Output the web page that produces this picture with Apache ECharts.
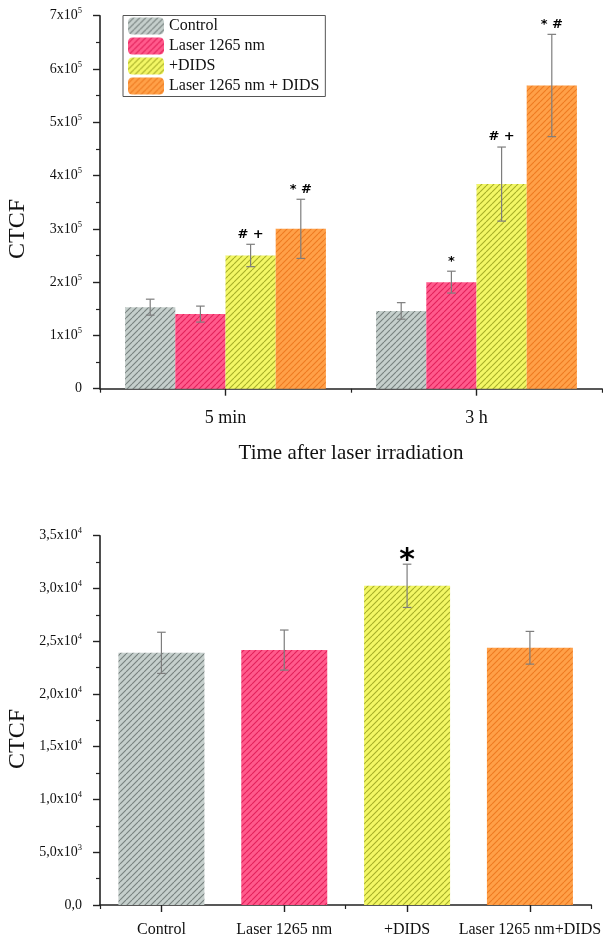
<!DOCTYPE html>
<html>
<head>
<meta charset="utf-8">
<script src="https://cdn.jsdelivr.net/npm/echarts@6/dist/echarts.min.js"></script>
<style>html,body{margin:0;padding:0;background:#fff}#c{width:603px;height:938px}</style>
</head>
<body>
<div id="c"></div>
<script>
// ---------- DATA ----------
const topCategories = ['5 min', '3 h'];
const seriesNames = ['Control', 'Laser 1265 nm', '+DIDS', 'Laser 1265 nm + DIDS'];
const controlValues = [153000, 146000];
const controlErrors = [15000, 15500];
const laserValues = [140000, 200000];
const laserErrors = [15000, 20500];
const didsValues = [250000, 384000];
const didsErrors = [21000, 69500];
const laserDidsValues = [300000, 569000];
const laserDidsErrors = [55500, 96000];
const controlMarks = ['', ''];
const laserMarks = ['', '*'];
const didsMarks = ['# +', '# +'];
const laserDidsMarks = ['* #', '* #'];
const topYTicks = [0, 100000, 200000, 300000, 400000, 500000, 600000, 700000];

const bottomCategories = ['Control', 'Laser 1265 nm', '+DIDS', 'Laser 1265 nm+DIDS'];
const bottomValues = [23900, 24160, 30250, 24380];
const bottomErrors = [1950, 1900, 2050, 1550];
const bottomMarks = ['', '', '*', ''];
const bottomYTicks = [0, 5000, 10000, 15000, 20000, 25000, 30000, 35000];

// ---------- STYLE ----------
const SERIF = 'Liberation Serif';
const SANS = 'DejaVu Sans';
const fills = [
  ['#c5cfcc', '#76817e'],
  ['#ff5a8c', '#e3215a'],
  ['#f3f765', '#a6ae28'],
  ['#ffa048', '#ee7a22']
];
function makePattern(bg, line) {
  const s = 6;
  const cv = document.createElement('canvas');
  cv.width = s; cv.height = s;
  const ctx = cv.getContext('2d');
  ctx.fillStyle = bg; ctx.fillRect(0, 0, s, s);
  ctx.strokeStyle = line; ctx.lineWidth = 1.1;
  for (const k of [-s, 0, s]) {
    ctx.beginPath(); ctx.moveTo(k, s); ctx.lineTo(k + s, 0); ctx.stroke();
  }
  return { image: cv, repeat: 'repeat' };
}
const patterns = fills.map(f => makePattern(f[0], f[1]));

const topValues = [controlValues, laserValues, didsValues, laserDidsValues];
const topErrors = [controlErrors, laserErrors, didsErrors, laserDidsErrors];
const topMarks = [controlMarks, laserMarks, didsMarks, laserDidsMarks];

const TOP_GAP = 0.2, BOTTOM_GAP = 0.3;

function errRender(nSeries, idx, catGap, marks, font, markOffset) {
  return function (params, api) {
    const ci = api.value(0), v = api.value(1), e = api.value(2);
    const c = api.coord([ci, v]);
    const cw = api.size([1, 0])[0];
    const bw = cw * (1 - catGap) / nSeries;
    const x = c[0] + (idx - (nSeries - 1) / 2) * bw;
    const yt = api.coord([ci, v + e])[1];
    const yb = api.coord([ci, v - e])[1];
    const cap = 4.3;
    const st = { stroke: '#7d7d7d', lineWidth: 1.2 };
    const children = [
      { type: 'line', shape: { x1: x, y1: yt, x2: x, y2: yb }, style: st },
      { type: 'line', shape: { x1: x - cap, y1: yt, x2: x + cap, y2: yt }, style: st },
      { type: 'line', shape: { x1: x - cap, y1: yb, x2: x + cap, y2: yb }, style: st }
    ];
    const m = marks[params.dataIndex];
    if (m) {
      children.push({ type: 'text', x: x, y: yt - markOffset,
        style: { text: m, font: font, fill: '#000', textAlign: 'center', textVerticalAlign: 'middle' } });
    }
    return { type: 'group', children: children };
  };
}

function topLabel(v) {
  if (v === 0) return '0';
  return '{b|' + Math.round(v / 100000) + 'x10}{s|5}';
}
function bottomLabel(v) {
  if (v === 0) return '0,0';
  if (v < 10000) return '{b|' + (v / 1000).toFixed(1).replace('.', ',') + 'x10}{s|3}';
  return '{b|' + (v / 10000).toFixed(1).replace('.', ',') + 'x10}{s|4}';
}
const richSup = {
  b: { fontFamily: SERIF, fontSize: 14, color: '#111' },
  s: { fontFamily: SERIF, fontSize: 8.5, color: '#111', verticalAlign: 'bottom', padding: [0, 0, 9, 0] }
};

const axisLine = { show: true, lineStyle: { color: '#222', width: 1.6 } };

const series = [];
for (let i = 0; i < 4; i++) {
  series.push({
    type: 'bar', name: seriesNames[i], xAxisIndex: 0, yAxisIndex: 0,
    data: topValues[i], barGap: '0%', barCategoryGap: (TOP_GAP * 100) + '%',
    itemStyle: { color: patterns[i] }, emphasis: { disabled: true }, animation: false
  });
}
for (let i = 0; i < 4; i++) {
  series.push({
    type: 'custom', name: seriesNames[i] + ' err', xAxisIndex: 0, yAxisIndex: 0, z: 5,
    data: topValues[i].map((v, j) => [j, v, topErrors[i][j]]),
    renderItem: errRender(4, i, TOP_GAP, topMarks[i], 'bold 13px ' + SANS, 10),
    animation: false, silent: true
  });
}
series.push({
  type: 'bar', name: 'bottom', xAxisIndex: 2, yAxisIndex: 1,
  data: bottomValues.map((v, i) => ({ value: v, itemStyle: { color: patterns[i] } })),
  barCategoryGap: (BOTTOM_GAP * 100) + '%', emphasis: { disabled: true }, animation: false
});
series.push({
  type: 'custom', name: 'bottom err', xAxisIndex: 2, yAxisIndex: 1, z: 5,
  data: bottomValues.map((v, i) => [i, v, bottomErrors[i]]),
  renderItem: errRender(1, 0, BOTTOM_GAP, bottomMarks, 'bold 30px ' + SANS, 3),
  animation: false, silent: true
});

const option = {
  animation: false,
  backgroundColor: '#fff',
  grid: [
    { left: 100, right: 1, top: 15.7, height: 373, containLabel: false },
    { left: 100, right: 3, top: 535.7, height: 370, containLabel: false }
  ],
  legend: {
    data: seriesNames, orient: 'vertical', left: 123, top: 15.5,
    itemWidth: 36, itemHeight: 17, itemGap: 3,
    padding: [2, 6, 2, 5], borderColor: '#555', borderWidth: 1,
    textStyle: { fontFamily: SERIF, fontSize: 16, color: '#111' },
    selectedMode: false
  },
  xAxis: [
    { type: 'category', gridIndex: 0, data: topCategories, axisLine: axisLine,
      axisTick: { show: true, alignWithLabel: true, length: 7, lineStyle: { color: '#222', width: 1.4 } },
      axisLabel: { fontFamily: SERIF, fontSize: 18, color: '#111', margin: 21 },
      name: 'Time after laser irradiation', nameLocation: 'middle', nameGap: 54,
      nameTextStyle: { fontFamily: SERIF, fontSize: 21, color: '#111' } },
    { type: 'category', gridIndex: 0, data: topCategories, position: 'bottom',
      axisLine: { show: false }, axisLabel: { show: false },
      axisTick: { show: true, length: 4, lineStyle: { color: '#222', width: 1.2 } } },
    { type: 'category', gridIndex: 1, data: bottomCategories, axisLine: axisLine,
      axisTick: { show: true, alignWithLabel: true, length: 7, lineStyle: { color: '#222', width: 1.4 } },
      axisLabel: { fontFamily: SERIF, fontSize: 16, color: '#111', margin: 17, interval: 0 } },
    { type: 'category', gridIndex: 1, data: bottomCategories, position: 'bottom',
      axisLine: { show: false }, axisLabel: { show: false },
      axisTick: { show: true, length: 4, lineStyle: { color: '#222', width: 1.2 } } }
  ],
  yAxis: [
    { type: 'value', gridIndex: 0, min: topYTicks[0], max: topYTicks[topYTicks.length - 1],
      interval: topYTicks[1] - topYTicks[0], axisLine: axisLine, splitLine: { show: false },
      axisTick: { show: true, length: 7, lineStyle: { color: '#222', width: 1.4 } },
      minorTick: { show: true, splitNumber: 2, length: 4, lineStyle: { color: '#222', width: 1.2 } },
      axisLabel: { formatter: topLabel, rich: richSup, margin: 18, fontFamily: SERIF, fontSize: 14, color: '#111' } },
    { type: 'value', gridIndex: 1, min: bottomYTicks[0], max: bottomYTicks[bottomYTicks.length - 1],
      interval: bottomYTicks[1] - bottomYTicks[0], axisLine: axisLine, splitLine: { show: false },
      axisTick: { show: true, length: 7, lineStyle: { color: '#222', width: 1.4 } },
      minorTick: { show: true, splitNumber: 2, length: 4, lineStyle: { color: '#222', width: 1.2 } },
      axisLabel: { formatter: bottomLabel, rich: richSup, margin: 18, fontFamily: SERIF, fontSize: 14, color: '#111' } }
  ],
  graphic: [
    { type: 'text', x: 18, y: 229, rotation: Math.PI / 2,
      style: { text: 'CTCF', font: '24px ' + SERIF, fill: '#111', textAlign: 'center', textVerticalAlign: 'middle' } },
    { type: 'text', x: 18, y: 739, rotation: Math.PI / 2,
      style: { text: 'CTCF', font: '24px ' + SERIF, fill: '#111', textAlign: 'center', textVerticalAlign: 'middle' } }
  ],
  series: series
};
const chart = echarts.init(document.getElementById('c'), null, { renderer: 'canvas' });
chart.setOption(option);
</script>
</body>
</html>
